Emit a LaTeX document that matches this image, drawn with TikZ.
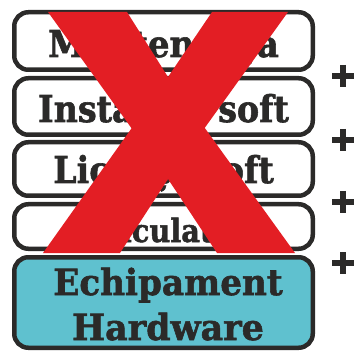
\documentclass[tikz,border=0pt]{standalone}
\usepackage{fontspec}
\usepackage{graphicx}
\newfontfamily\slabfont{DejaVu Serif}[BoldFeatures={FakeBold=1.6}]
\definecolor{ink}{HTML}{2B2A29}
\definecolor{teal}{HTML}{5FC1CF}
\definecolor{xred}{HTML}{E31E24}
\begin{document}
\begin{tikzpicture}[x=1pt,y=-1pt,
  box/.style={draw=ink,line width=4.5pt,rounded corners=14pt,minimum width=298.5pt,inner sep=0pt,outer sep=0pt,fill=white},
  lbl/.style={anchor=base,inner sep=0pt,text=ink,font=\slabfont\bfseries\fontsize{37}{42}\selectfont},
  plus/.style={draw=ink,line width=6.5pt}]
\useasboundingbox (0,0) rectangle (355,352);
\fill[white] (0,0) rectangle (355,352);
% boxes
\node[box,minimum height=57.5pt] (b1) at (163.5,41) {};
\node[box,minimum height=56.5pt] (b2) at (163.5,106.5) {};
\node[box,minimum height=53.5pt] (b3) at (163.5,169) {};
\node[box,minimum height=44.5pt] (b4) at (163.5,226.5) {};
\node[box,minimum height=90.5pt,fill=teal] (b5) at (163.5,302.5) {};
% labels
\node[lbl] (t1) at (163.5,57) {\scalebox{0.92}[1]{Mentenanța}};
\node[lbl] (t2) at (163.5,122) {\scalebox{0.9}[1]{Instalare soft}};
\node[lbl] (t3) at (163.5,183) {\scalebox{0.9}[1]{Licențe soft}};
\node[lbl,font=\slabfont\bfseries\fontsize{32}{36}\selectfont] (t4) at (163.5,242) {\scalebox{0.9}[1]{Calculator}};
\node[lbl,font=\slabfont\bfseries\fontsize{36}{40}\selectfont] (t5) at (168,295) {\scalebox{0.95}[1]{Echipament}};
\node[lbl,font=\slabfont\bfseries\fontsize{36}{40}\selectfont] (t6) at (168,340) {\scalebox{0.97}[1]{Hardware}};
% plus signs
\foreach \yy in {76,140,202,263}{
  \draw[plus] (332,\yy) -- (354,\yy);
  \draw[plus] (343,\yy-11) -- (343,\yy+11);
}
% red X
\fill[xred] (48,12) -- (127,12) -- (168,77) -- (295,253) -- (217,253) -- (168,179) -- cycle;
\fill[xred] (212,12) -- (288,12) -- (168,179) -- (120,253) -- (43,253) -- (168,77) -- cycle;
\end{tikzpicture}
\end{document}
